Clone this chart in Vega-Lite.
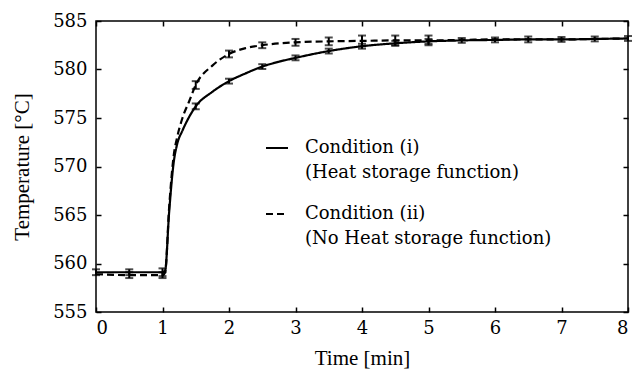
{
  "$schema": "https://vega.github.io/schema/vega-lite/v6.json",
  "width": 532,
  "height": 291,
  "autosize": "none",
  "padding": {"left": 96, "top": 21, "right": 6, "bottom": 60},
  "background": "white",
  "config": {
    "view": {"stroke": "black", "strokeWidth": 1.5},
    "axis": {
      "grid": false,
      "domain": false,
      "tickColor": "black",
      "tickWidth": 1.5,
      "tickSize": -5,
      "labelFont": "DejaVu Serif",
      "labelFontSize": 18,
      "labelColor": "black",
      "titleFont": "Liberation Serif",
      "titleFontSize": 21,
      "titleFontWeight": "normal",
      "titleColor": "black"
    }
  },
  "datasets": {
    "curves": [
      {"t": 0, "temp": 559.1, "cond": "i"},
      {"t": 0.5, "temp": 559.1, "cond": "i"},
      {"t": 1.0, "temp": 559.1, "cond": "i"},
      {"t": 1.04, "temp": 559.3, "cond": "i"},
      {"t": 1.1, "temp": 565.3, "cond": "i"},
      {"t": 1.17, "temp": 570.5, "cond": "i"},
      {"t": 1.22, "temp": 572.3, "cond": "i"},
      {"t": 1.3, "temp": 573.7, "cond": "i"},
      {"t": 1.4, "temp": 575.1, "cond": "i"},
      {"t": 1.5, "temp": 576.2, "cond": "i"},
      {"t": 1.75, "temp": 577.7, "cond": "i"},
      {"t": 2.0, "temp": 578.8, "cond": "i"},
      {"t": 2.25, "temp": 579.6, "cond": "i"},
      {"t": 2.5, "temp": 580.3, "cond": "i"},
      {"t": 2.75, "temp": 580.8, "cond": "i"},
      {"t": 3.0, "temp": 581.2, "cond": "i"},
      {"t": 3.5, "temp": 581.9, "cond": "i"},
      {"t": 4.0, "temp": 582.4, "cond": "i"},
      {"t": 4.5, "temp": 582.7, "cond": "i"},
      {"t": 5.0, "temp": 582.9, "cond": "i"},
      {"t": 5.5, "temp": 583.0, "cond": "i"},
      {"t": 6.0, "temp": 583.05, "cond": "i"},
      {"t": 6.5, "temp": 583.1, "cond": "i"},
      {"t": 7.0, "temp": 583.1, "cond": "i"},
      {"t": 7.5, "temp": 583.15, "cond": "i"},
      {"t": 8.0, "temp": 583.2, "cond": "i"},
      {"t": 0, "temp": 558.9, "cond": "ii"},
      {"t": 0.5, "temp": 558.8, "cond": "ii"},
      {"t": 1.0, "temp": 558.8, "cond": "ii"},
      {"t": 1.04, "temp": 559.1, "cond": "ii"},
      {"t": 1.1, "temp": 565.8, "cond": "ii"},
      {"t": 1.17, "temp": 571.2, "cond": "ii"},
      {"t": 1.22, "temp": 573.0, "cond": "ii"},
      {"t": 1.3, "temp": 575.0, "cond": "ii"},
      {"t": 1.4, "temp": 576.7, "cond": "ii"},
      {"t": 1.5, "temp": 578.4, "cond": "ii"},
      {"t": 1.75, "temp": 580.4, "cond": "ii"},
      {"t": 2.0, "temp": 581.6, "cond": "ii"},
      {"t": 2.25, "temp": 582.2, "cond": "ii"},
      {"t": 2.5, "temp": 582.5, "cond": "ii"},
      {"t": 3.0, "temp": 582.8, "cond": "ii"},
      {"t": 3.5, "temp": 582.9, "cond": "ii"},
      {"t": 4.0, "temp": 582.95, "cond": "ii"},
      {"t": 4.5, "temp": 583.0, "cond": "ii"},
      {"t": 5.0, "temp": 583.0, "cond": "ii"},
      {"t": 5.5, "temp": 583.05, "cond": "ii"},
      {"t": 6.0, "temp": 583.1, "cond": "ii"},
      {"t": 6.5, "temp": 583.1, "cond": "ii"},
      {"t": 7.0, "temp": 583.1, "cond": "ii"},
      {"t": 7.5, "temp": 583.15, "cond": "ii"},
      {"t": 8.0, "temp": 583.2, "cond": "ii"}
    ],
    "errors": [
      {"t": 0, "lo": 558.8, "hi": 559.4, "cond": "i"},
      {"t": 0.5, "lo": 558.8, "hi": 559.4, "cond": "i"},
      {"t": 1.0, "lo": 558.7, "hi": 559.5, "cond": "i"},
      {"t": 1.5, "lo": 575.9, "hi": 576.5, "cond": "i"},
      {"t": 2.0, "lo": 578.55, "hi": 579.05, "cond": "i"},
      {"t": 2.5, "lo": 580.05, "hi": 580.55, "cond": "i"},
      {"t": 3.0, "lo": 580.95, "hi": 581.45, "cond": "i"},
      {"t": 3.5, "lo": 581.65, "hi": 582.15, "cond": "i"},
      {"t": 4.0, "lo": 582.15, "hi": 582.65, "cond": "i"},
      {"t": 4.5, "lo": 582.45, "hi": 582.95, "cond": "i"},
      {"t": 5.0, "lo": 582.65, "hi": 583.15, "cond": "i"},
      {"t": 5.5, "lo": 582.75, "hi": 583.25, "cond": "i"},
      {"t": 6.0, "lo": 582.8, "hi": 583.3, "cond": "i"},
      {"t": 6.5, "lo": 582.8, "hi": 583.4, "cond": "i"},
      {"t": 7.0, "lo": 582.85, "hi": 583.35, "cond": "i"},
      {"t": 7.5, "lo": 582.9, "hi": 583.4, "cond": "i"},
      {"t": 8.0, "lo": 582.95, "hi": 583.45, "cond": "i"},
      {"t": 0.5, "lo": 558.5, "hi": 559.1, "cond": "ii"},
      {"t": 1.0, "lo": 558.5, "hi": 559.1, "cond": "ii"},
      {"t": 1.5, "lo": 578.0, "hi": 578.8, "cond": "ii"},
      {"t": 2.0, "lo": 581.25, "hi": 581.95, "cond": "ii"},
      {"t": 2.5, "lo": 582.2, "hi": 582.8, "cond": "ii"},
      {"t": 3.0, "lo": 582.45, "hi": 583.15, "cond": "ii"},
      {"t": 3.5, "lo": 582.5, "hi": 583.3, "cond": "ii"},
      {"t": 4.0, "lo": 582.4, "hi": 583.5, "cond": "ii"},
      {"t": 4.5, "lo": 582.5, "hi": 583.5, "cond": "ii"},
      {"t": 5.0, "lo": 582.5, "hi": 583.5, "cond": "ii"}
    ]
  },
  "resolve": {"axis": {"x": "independent", "y": "independent"}},
  "layer": [
    {
      "data": {"name": "curves"},
      "mark": {"type": "line", "color": "black", "strokeWidth": 2.2, "interpolate": "monotone"},
      "encoding": {
        "x": {
          "field": "t", "type": "quantitative",
          "scale": {"domain": [0, 8], "nice": false, "zero": false},
          "axis": {"orient": "bottom", "title": "Time [min]", "values": [0, 1, 2, 3, 4, 5, 6, 7, 8], "labelPadding": 12, "titlePadding": 10}
        },
        "y": {
          "field": "temp", "type": "quantitative",
          "scale": {"domain": [555, 585], "nice": false, "zero": false},
          "axis": {"orient": "left", "title": "Temperature [°C]", "values": [555, 560, 565, 570, 575, 580, 585], "labelPadding": 14, "titlePadding": 20}
        },
        "strokeDash": {
          "field": "cond", "type": "nominal",
          "scale": {"domain": ["i", "ii"], "range": [[1, 0], [7, 4]]},
          "legend": {
            "orient": "none",
            "legendX": 169,
            "legendY": 115,
            "title": null,
            "padding": 0,
            "symbolType": "stroke",
            "symbolSize": 484,
            "symbolStrokeWidth": 2,
            "symbolStrokeColor": "black",
            "labelFont": "DejaVu Serif",
            "labelFontSize": 18,
            "labelColor": "black",
            "labelLimit": 400,
            "labelOffset": 16,
            "rowPadding": 20,
            "labelExpr": "datum.value == 'i' ? ['Condition (i)', '(Heat storage function)'] : ['Condition (ii)', '(No Heat storage function)']",
            "encode": {"labels": {"update": {"lineHeight": {"value": 25}}}}
          }
        }
      }
    },
    {
      "data": {"name": "errors"},
      "mark": {"type": "rule", "color": "black", "strokeWidth": 2},
      "encoding": {
        "x": {"field": "t", "type": "quantitative", "axis": {"orient": "top", "labels": false, "title": null, "values": [0, 1, 2, 3, 4, 5, 6, 7, 8]}},
        "y": {"field": "lo", "type": "quantitative", "axis": {"orient": "right", "labels": false, "title": null, "values": [555, 560, 565, 570, 575, 580, 585]}},
        "y2": {"field": "hi"}
      }
    },
    {
      "data": {"name": "errors"},
      "mark": {"type": "tick", "color": "black", "orient": "horizontal", "size": 8, "thickness": 2},
      "encoding": {
        "x": {"field": "t", "type": "quantitative", "axis": null},
        "y": {"field": "lo", "type": "quantitative", "axis": null}
      }
    },
    {
      "data": {"name": "errors"},
      "mark": {"type": "tick", "color": "black", "orient": "horizontal", "size": 8, "thickness": 2},
      "encoding": {
        "x": {"field": "t", "type": "quantitative", "axis": null},
        "y": {"field": "hi", "type": "quantitative", "axis": null}
      }
    }
  ]
}
